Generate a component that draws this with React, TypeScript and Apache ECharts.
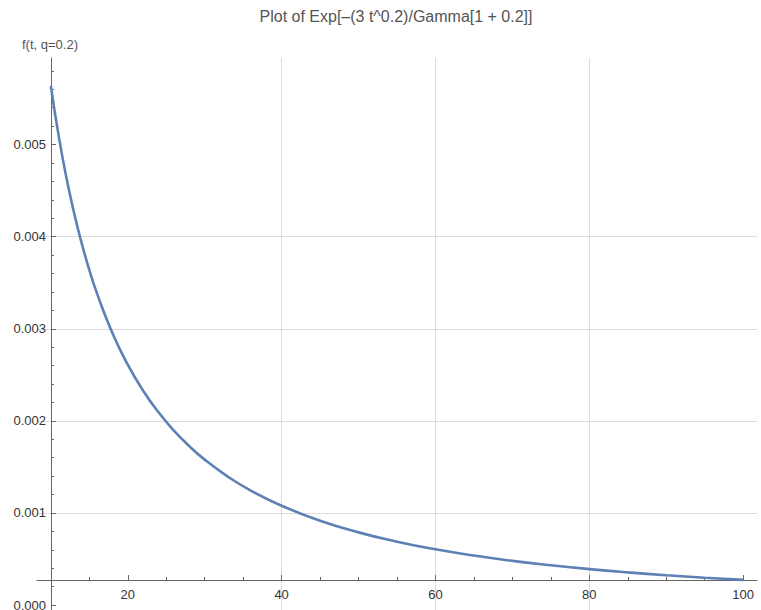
import React, { useEffect, useRef } from "react";
import * as echarts from "echarts";

const titleText = "Plot of Exp[–(3 t^0.2)/Gamma[1 + 0.2]]";
const yName = "f(t, q=0.2)";

const tValues = [10, 11, 12, 13, 14, 15, 16, 18, 20, 22, 24, 26, 28, 30, 33, 36, 40, 45, 50, 55, 60, 65, 70, 75, 80, 85, 90, 95, 100];
const fValues = [
  0.0056369, 0.0051022, 0.0046504, 0.0042646, 0.0039309, 0.0036397, 0.0033836, 0.0029546,
  0.0026099, 0.0023276, 0.0020926, 0.0018943, 0.001725, 0.001579, 0.0013947, 0.0012426,
  0.0010776, 0.00091564, 0.00078891, 0.00068756, 0.00060505, 0.00053687, 0.00047976,
  0.00043144, 0.00039012, 0.0003545, 0.00032355, 0.00029649, 0.00027265,
];

const xMajorTicks = [20, 40, 60, 80, 100];
const xMinorTicks = [15, 25, 30, 35, 45, 50, 55, 65, 70, 75, 85, 90, 95];
const yMajorTicks = [0, 0.001, 0.002, 0.003, 0.004, 0.005];
const yMinorTicks = [
  0.0002, 0.0004, 0.0006, 0.0008, 0.0012, 0.0014, 0.0016, 0.0018, 0.0022, 0.0024, 0.0026, 0.0028,
  0.0032, 0.0034, 0.0036, 0.0038, 0.0042, 0.0044, 0.0046, 0.0048, 0.0052, 0.0054, 0.0056, 0.0058,
];

const X_MIN = 8.2;
const X_MAX = 101.8;
const Y_MIN = -0.000054;
const Y_MAX = 0.00594;

const FONT = "'Liberation Sans', Arial, sans-serif";
const AXIS_COLOR = "#666666";
const GRID_COLOR = "#dcdcdc";

export default function App() {
  const ref = useRef<HTMLDivElement>(null);
  useEffect(() => {
    document.body.style.margin = "0";
    if (!ref.current) return;
    const chart = echarts.init(ref.current, undefined, { renderer: "svg" });
    const data = tValues.map((t, i) => [t, fValues[i]]);
    chart.setOption({
      animation: false,
      backgroundColor: "#ffffff",
      grid: { left: 37, right: 4, top: 58, bottom: 0, outerBoundsMode: "none", containLabel: false },
      xAxis: [
        {
          type: "value",
          min: X_MIN,
          max: X_MAX,
          position: "bottom",
          offset: -30,
          axisLine: { show: true, onZero: false, lineStyle: { color: AXIS_COLOR, width: 1 } },
          axisTick: { show: true, inside: true, length: 5, customValues: xMajorTicks, lineStyle: { color: AXIS_COLOR } },
          axisLabel: {
            show: true,
            customValues: xMajorTicks,
            margin: 8,
            color: "#333333",
            fontSize: 13,
            fontFamily: FONT,
          },
          splitLine: { show: true, showMinLine: false, showMaxLine: false, lineStyle: { color: GRID_COLOR, width: 1 } },
        },
        {
          type: "value",
          min: X_MIN,
          max: X_MAX,
          position: "bottom",
          offset: -30,
          axisLine: { show: false, onZero: false },
          axisTick: { show: true, inside: true, length: 3, customValues: xMinorTicks, lineStyle: { color: AXIS_COLOR } },
          axisLabel: { show: false },
          splitLine: { show: false },
        },
      ],
      yAxis: [
        {
          type: "value",
          min: Y_MIN,
          max: Y_MAX,
          position: "left",
          offset: -14,
          axisLine: { show: true, onZero: false, lineStyle: { color: AXIS_COLOR, width: 1 } },
          axisTick: { show: true, inside: true, length: 5, customValues: yMajorTicks, lineStyle: { color: AXIS_COLOR } },
          axisLabel: {
            show: true,
            customValues: yMajorTicks,
            margin: 5,
            color: "#333333",
            fontSize: 13,
            fontFamily: FONT,
            formatter: (v: number) => v.toFixed(3),
          },
          splitLine: { show: true, showMinLine: false, showMaxLine: false, lineStyle: { color: GRID_COLOR, width: 1 } },
        },
        {
          type: "value",
          min: Y_MIN,
          max: Y_MAX,
          position: "left",
          offset: -14,
          axisLine: { show: false, onZero: false },
          axisTick: { show: true, inside: true, length: 3, customValues: yMinorTicks, lineStyle: { color: AXIS_COLOR } },
          axisLabel: { show: false },
          splitLine: { show: false },
        },
      ],
      graphic: [
        {
          type: "text",
          x: 396,
          y: 16,
          style: {
            text: titleText,
            fill: "#555555",
            font: `16px ${FONT}`,
            textAlign: "center",
            textVerticalAlign: "middle",
            align: "center",
            verticalAlign: "middle",
          },
        },
        {
          type: "text",
          x: 50,
          y: 44,
          style: {
            text: yName,
            fill: "#555555",
            font: `13px ${FONT}`,
            textAlign: "center",
            textVerticalAlign: "middle",
            align: "center",
            verticalAlign: "middle",
          },
        },
      ],
      series: [
        {
          type: "line",
          xAxisIndex: 0,
          yAxisIndex: 0,
          data,
          showSymbol: false,
          symbol: "none",
          smooth: true,
          lineStyle: { color: "#5E81B5", width: 2.6 },
          z: 5,
        },
      ],
    });
    return () => chart.dispose();
  }, []);
  return <div ref={ref} style={{ position: "absolute", left: 0, top: 0, width: 761, height: 610 }} />;
}
